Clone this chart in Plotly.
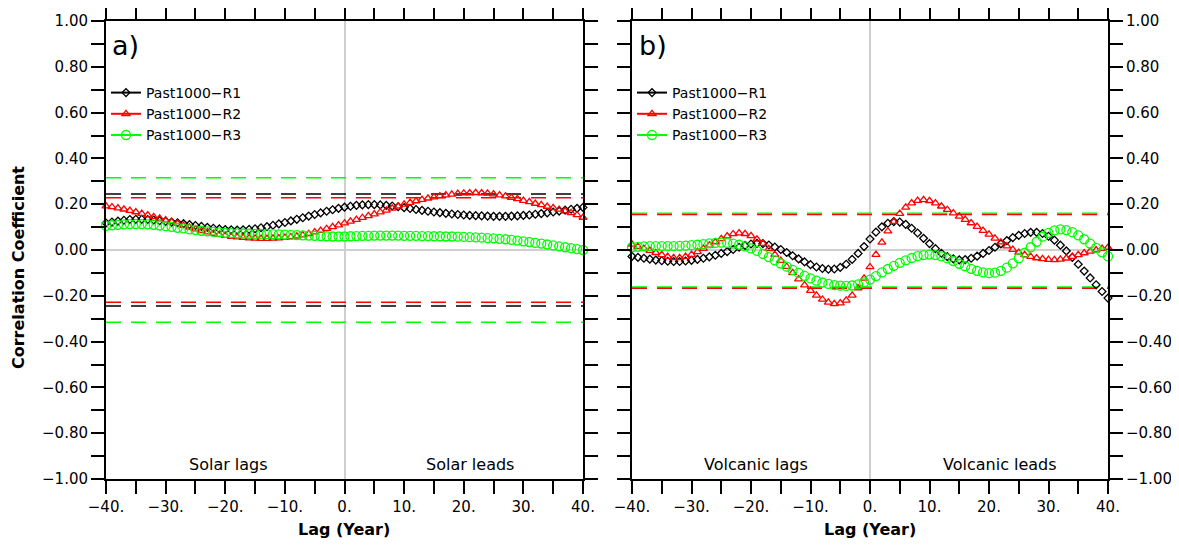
import plotly.graph_objects as go

lags = list(range(-40, 41))

# Panel a: Solar
solar_r1 = [0.118, 0.122, 0.126, 0.130, 0.133, 0.134, 0.134, 0.133, 0.131, 0.128,
            0.125, 0.122, 0.119, 0.115, 0.111, 0.107, 0.103, 0.099, 0.095, 0.092,
            0.089, 0.088, 0.087, 0.088, 0.090, 0.093, 0.097, 0.102, 0.108, 0.114,
            0.120, 0.127, 0.134, 0.141, 0.148, 0.155, 0.162, 0.169, 0.176, 0.182,
            0.187,
            0.191, 0.195, 0.197, 0.198, 0.198, 0.197, 0.195, 0.192, 0.189, 0.185,
            0.181, 0.177, 0.173, 0.169, 0.166, 0.163, 0.160, 0.157, 0.155, 0.153,
            0.151, 0.150, 0.149, 0.148, 0.147, 0.147, 0.147, 0.148, 0.149, 0.151,
            0.153, 0.156, 0.159, 0.162, 0.166, 0.170, 0.174, 0.178, 0.182, 0.186]
solar_r2 = [0.192, 0.188, 0.183, 0.178, 0.172, 0.166, 0.159, 0.152, 0.145, 0.138,
            0.131, 0.123, 0.115, 0.107, 0.099, 0.091, 0.084, 0.078, 0.072, 0.067,
            0.063, 0.059, 0.056, 0.054, 0.052, 0.051, 0.050, 0.050, 0.051, 0.052,
            0.054, 0.057, 0.060, 0.065, 0.071, 0.078, 0.085, 0.093, 0.101, 0.109,
            0.117,
            0.125, 0.133, 0.141, 0.149, 0.157, 0.165, 0.173, 0.182, 0.191, 0.199,
            0.207, 0.214, 0.220, 0.226, 0.231, 0.236, 0.240, 0.243, 0.246, 0.248,
            0.249, 0.250, 0.249, 0.247, 0.244, 0.240, 0.235, 0.229, 0.223, 0.216,
            0.210, 0.203, 0.197, 0.190, 0.184, 0.177, 0.170, 0.162, 0.153, 0.142]
solar_r3 = [0.105, 0.108, 0.110, 0.112, 0.113, 0.113, 0.113, 0.112, 0.110, 0.107,
            0.104, 0.101, 0.097, 0.094, 0.090, 0.087, 0.084, 0.081, 0.079, 0.077,
            0.075, 0.074, 0.073, 0.072, 0.071, 0.070, 0.070, 0.069, 0.069, 0.068,
            0.067, 0.066, 0.065, 0.064, 0.063, 0.062, 0.061, 0.060, 0.059, 0.059,
            0.059,
            0.060, 0.061, 0.062, 0.062, 0.063, 0.063, 0.063, 0.063, 0.063, 0.062,
            0.062, 0.062, 0.061, 0.061, 0.060, 0.060, 0.059, 0.059, 0.058, 0.057,
            0.056, 0.055, 0.054, 0.052, 0.051, 0.049, 0.047, 0.044, 0.041, 0.038,
            0.035, 0.031, 0.028, 0.024, 0.020, 0.016, 0.012, 0.008, 0.004, 0.000]

# Panel b: Volcanic
volc_r1 = [-0.028, -0.032, -0.036, -0.040, -0.044, -0.047, -0.049, -0.050, -0.050, -0.048,
           -0.045, -0.041, -0.036, -0.030, -0.023, -0.015, -0.007, 0.002, 0.012, 0.020,
           0.026, 0.029, 0.028, 0.022, 0.013, 0.002, -0.011, -0.025, -0.039, -0.052,
           -0.064, -0.074, -0.081, -0.084, -0.083, -0.076, -0.062, -0.041, -0.015, 0.015,
           0.048,
           0.078, 0.101, 0.117, 0.124, 0.122, 0.112, 0.095, 0.074, 0.051, 0.028,
           0.006, -0.014, -0.029, -0.039, -0.043, -0.042, -0.036, -0.027, -0.015, -0.002,
           0.012, 0.027, 0.041, 0.054, 0.064, 0.072, 0.077, 0.077, 0.072, 0.060,
           0.043, 0.021, -0.004, -0.032, -0.062, -0.092, -0.122, -0.152, -0.181, -0.210]
volc_r2 = [0.025, 0.015, 0.006, -0.003, -0.012, -0.021, -0.029, -0.034, -0.034, -0.029,
           -0.020, -0.008, 0.006, 0.020, 0.035, 0.049, 0.061, 0.070, 0.074, 0.071,
           0.062, 0.047, 0.028, 0.005, -0.020, -0.046, -0.073, -0.100, -0.127, -0.153,
           -0.177, -0.198, -0.216, -0.229, -0.235, -0.232, -0.220, -0.198, -0.166, -0.124,
           -0.074,
           -0.020, 0.033, 0.082, 0.124, 0.159, 0.186, 0.205, 0.216, 0.219, 0.215,
           0.205, 0.191, 0.176, 0.161, 0.147, 0.133, 0.118, 0.102, 0.085, 0.068,
           0.051, 0.034, 0.017, 0.002, -0.011, -0.021, -0.029, -0.035, -0.039, -0.042,
           -0.043, -0.041, -0.036, -0.029, -0.021, -0.013, -0.006, 0.000, 0.006, 0.011]
volc_r3 = [0.012, 0.014, 0.016, 0.017, 0.017, 0.017, 0.017, 0.017, 0.018, 0.019,
           0.021, 0.023, 0.026, 0.029, 0.031, 0.032, 0.031, 0.028, 0.023, 0.016,
           0.007, -0.004, -0.017, -0.031, -0.045, -0.059, -0.073, -0.087, -0.100, -0.113,
           -0.124, -0.134, -0.142, -0.148, -0.153, -0.156, -0.157, -0.155, -0.150, -0.141,
           -0.129,
           -0.114, -0.098, -0.083, -0.069, -0.056, -0.045, -0.035, -0.027, -0.022, -0.020,
           -0.022, -0.028, -0.037, -0.048, -0.060, -0.071, -0.082, -0.091, -0.098, -0.101,
           -0.099, -0.091, -0.077, -0.058, -0.036, -0.012, 0.012, 0.036, 0.058, 0.075,
           0.086, 0.090, 0.087, 0.078, 0.064, 0.047, 0.028, 0.009, -0.010, -0.028]

# Significance levels (upper, lower) for R1, R2, R3
solar_sig_upper = [0.245, 0.228, 0.315]
solar_sig_lower = [-0.245, -0.228, -0.315]
volc_sig_upper = [0.157, 0.155, 0.160]
volc_sig_lower = [-0.165, -0.167, -0.162]

series_names = ["Past1000−R1", "Past1000−R2", "Past1000−R3"]
colors = ["#000000", "#ff0000", "#00ff00"]
symbols = ["diamond-open", "triangle-up-open", "circle-open"]
sizes = [6, 7, 9]

FONT = "DejaVu Sans"

# page has an 8px body margin; figure sized to fit the window
OFF = 8
W, H = 1179 - OFF, 545 - OFF


def px(x):
    return (x - OFF) / W


def py(y):
    return 1 - (y - OFF) / H


fig = go.Figure()

panels = [
    ("x", "y", [solar_r1, solar_r2, solar_r3], solar_sig_upper, solar_sig_lower, "legend"),
    ("x2", "y2", [volc_r1, volc_r2, volc_r3], volc_sig_upper, volc_sig_lower, "legend2"),
]

for xa, ya, data, sup, slo, leg in panels:
    for i in [0, 1, 2]:
        for lvl in (sup[i], slo[i]):
            fig.add_trace(go.Scatter(
                x=[lags[0], lags[-1]], y=[lvl, lvl], mode="lines",
                line=dict(color=colors[i], width=1.5, dash="15px,10px"),
                xaxis=xa, yaxis=ya, showlegend=False, hoverinfo="skip"))
    for i in [0, 1, 2]:
        fig.add_trace(go.Scatter(
            x=lags, y=data[i], mode="markers",
            marker=dict(symbol=symbols[i], size=sizes[i], color=colors[i],
                        line=dict(color=colors[i], width=1.3)),
            xaxis=xa, yaxis=ya, showlegend=False, cliponaxis=False))
    for i in [0, 1, 2]:
        fig.add_trace(go.Scatter(
            x=[None], y=[None], mode="lines+markers", name=series_names[i],
            line=dict(color=colors[i], width=2),
            marker=dict(symbol=symbols[i], size=sizes[i], color=colors[i],
                        line=dict(color=colors[i], width=1.3)),
            xaxis=xa, yaxis=ya, legend=leg, showlegend=True))

yvals = [round(-1.0 + 0.1 * k, 1) for k in range(21)]
ytext = []
for k, v in enumerate(yvals):
    if k % 2 == 0:
        ytext.append(f"{v:.2f}".replace("-", "−") if abs(v) > 1e-9 else "0.00")
    else:
        ytext.append("")
xvals = list(range(-40, 41, 5))
xtext = [(f"{v}.".replace("-", "−") if v % 10 == 0 else "") for v in xvals]

common = dict(showline=True, linewidth=2, linecolor="black", ticks="outside",
              ticklen=13, tickwidth=2, tickcolor="black", mirror="ticks",
              showgrid=False, zeroline=True, zerolinecolor="#cfcfcf", zerolinewidth=2,
              automargin=False,
              tickfont=dict(family=FONT, size=15, color="black"))

xa_dom = [px(106), px(583)]
xb_dom = [px(632), px(1108)]
y_dom = [py(479), py(21)]

fig.update_layout(
    width=W, height=H, autosize=False,
    margin=dict(l=0, r=0, t=0, b=0, pad=0),
    paper_bgcolor="white", plot_bgcolor="white",
    xaxis=dict(domain=xa_dom, range=[-40, 40], tickvals=xvals, ticktext=xtext,
               anchor="y", **common),
    yaxis=dict(domain=y_dom, range=[-1, 1], tickvals=yvals, ticktext=ytext,
               anchor="x", side="left", **common),
    xaxis2=dict(domain=xb_dom, range=[-40, 40], tickvals=xvals, ticktext=xtext,
                anchor="y2", **common),
    yaxis2=dict(domain=y_dom, range=[-1, 1], tickvals=yvals, ticktext=ytext,
                anchor="x2", side="right", **common),
    legend=dict(x=px(106), y=py(77), xanchor="left", yanchor="top",
                bgcolor="rgba(0,0,0,0)", itemwidth=30, tracegroupgap=0,
                font=dict(family=FONT, size=14, color="black")),
    legend2=dict(x=px(632), y=py(77), xanchor="left", yanchor="top",
                 bgcolor="rgba(0,0,0,0)", itemwidth=30, tracegroupgap=0,
                 font=dict(family=FONT, size=14, color="black")),
)

ann_font = dict(family=FONT, size=16, color="black")
annotations = [
    dict(text="a)", x=px(110), y=py(28), xref="paper", yref="paper",
         xanchor="left", yanchor="top", showarrow=False,
         font=dict(family=FONT, size=27, color="black")),
    dict(text="b)", x=px(637), y=py(28), xref="paper", yref="paper",
         xanchor="left", yanchor="top", showarrow=False,
         font=dict(family=FONT, size=27, color="black")),
    dict(text="Solar lags", x=-19.5, y=-0.935, xref="x", yref="y", showarrow=False,
         xanchor="center", yanchor="middle", font=ann_font),
    dict(text="Solar leads", x=21.1, y=-0.935, xref="x", yref="y", showarrow=False,
         xanchor="center", yanchor="middle", font=ann_font),
    dict(text="Volcanic lags", x=-19.2, y=-0.935, xref="x2", yref="y2", showarrow=False,
         xanchor="center", yanchor="middle", font=ann_font),
    dict(text="Volcanic leads", x=21.8, y=-0.935, xref="x2", yref="y2", showarrow=False,
         xanchor="center", yanchor="middle", font=ann_font),
    dict(text="<b>Correlation Coefficient</b>", x=px(19), y=py(268),
         xref="paper", yref="paper", textangle=-90, showarrow=False,
         xanchor="center", yanchor="middle",
         font=dict(family=FONT, size=16, color="black")),
    dict(text="<b>Lag (Year)</b>", x=px(344), y=py(529), xref="paper", yref="paper",
         xanchor="center", yanchor="middle",
         showarrow=False, font=dict(family=FONT, size=16, color="black")),
    dict(text="<b>Lag (Year)</b>", x=px(870), y=py(529), xref="paper", yref="paper",
         xanchor="center", yanchor="middle",
         showarrow=False, font=dict(family=FONT, size=16, color="black")),
]
fig.update_layout(annotations=annotations)

fig.write_html("out.html")
